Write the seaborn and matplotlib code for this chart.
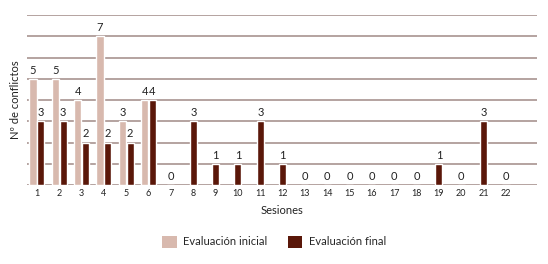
import numpy as np
import pandas as pd
import matplotlib
matplotlib.use("Agg")
import matplotlib.pyplot as plt
import seaborn as sns
from matplotlib.patches import Patch

sessions = [str(i) for i in range(1, 23)]
inicial = [5, 5, 4, 7, 3, 4] + [np.nan] * 16
final = [3, 3, 2, 2, 2, 4, 0, 3, 1, 1, 3, 1, 0, 0, 0, 0, 0, 0, 1, 0, 3, 0]
series_names = ["Evaluación inicial", "Evaluación final"]
colors = ["#d8b9ae", "#5a1709"]

df = pd.DataFrame({
    "Sesiones": sessions * 2,
    "valor": inicial + final,
    "serie": [series_names[0]] * 22 + [series_names[1]] * 22,
})

sns.set_theme(style="white")
plt.rcParams["font.family"] = ["Lato", "DejaVu Sans"]

fig = plt.figure(figsize=(5.48, 2.64), dpi=100)
ax = fig.add_axes([0.049, 0.299, 0.931, 0.644])

sns.barplot(data=df, x="Sesiones", y="valor", hue="serie", order=sessions,
            hue_order=series_names, palette=colors, width=0.7, gap=0.1,
            dodge=True, legend=False, ax=ax, saturation=1)

# center bars of sessions with only final evaluation
init_arr = np.array(inicial, dtype=float)
for bar_container, name in zip(ax.containers, series_names):
    for i, p in enumerate(bar_container.patches):
        if name == series_names[1] and np.isnan(init_arr[i]):
            w = p.get_width()
            p.set_x(i - w / 2)

ax.set_ylim(0, 8)
ax.set_xlim(-0.45, 22.39)
ax.set_yticks(range(0, 9))
ax.set_yticklabels([])
ax.yaxis.grid(True, color="#a89490", linewidth=1.2)
ax.set_axisbelow(True)
for s in ax.spines.values():
    s.set_visible(False)
ax.tick_params(axis="x", length=0, labelsize=6.5, pad=3, colors="#222222")
ax.tick_params(axis="y", length=0)

# value labels
for bar_container, name in zip(ax.containers, series_names):
    for i, p in enumerate(bar_container.patches):
        h = p.get_height()
        if np.isnan(h):
            continue
        ax.text(p.get_x() + p.get_width() / 2, h + 0.15, f"{int(h)}",
                ha="center", va="bottom", fontsize=8, color="#222222")

ax.set_xlabel("Sesiones", fontsize=8, labelpad=5, color="#222222")
ax.set_ylabel("Nº de conflictos", fontsize=8, labelpad=1, color="#222222")

handles = [Patch(facecolor=c, edgecolor="none") for c in colors]
fig.legend(handles, series_names, loc="center", bbox_to_anchor=(0.5, 0.085),
           ncol=2, frameon=False, fontsize=8, handlelength=1.3,
           handleheight=1.3, columnspacing=1.8, handletextpad=0.6)

fig.savefig("out.png", dpi=100)
